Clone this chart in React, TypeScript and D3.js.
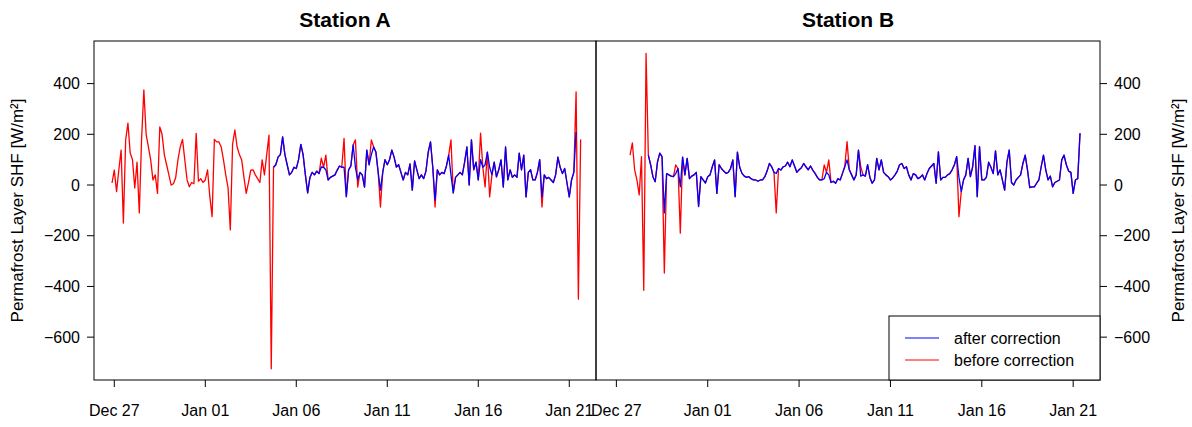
import * as d3 from 'd3'

// readings every 3 hours, first one at Dec 26 21:00
const startTime = Date.UTC(2014, 11, 26, 21)
const stepMs = 3 * 3600 * 1000

// Station A: raw values before the corrected record begins (index 0..70)
const rawOnlyA = [
  8, 59, -26, 60, 138, -150, 178, 244, 126, 100,
  -12, 90, -110, 180, 375, 200, 150, 99, 20, 40,
  -33, 229, 200, 120, 80, 40, 0, 5, 30, 100,
  150, 180, 99, 20, -7, 10, 5, 204, 15, 25,
  10, 20, 60, -46, -125, 180, 170, 170, 150, 99,
  40, -10, -177, 160, 217, 150, 120, 99, 30, -33,
  10, 59, 60, 40, 25, 10, 99, 40, 120, 197,
  -725,
]
const afterStartA = 71
const afterA = [
  70, 80, 110, 120, 190, 120, 80, 40, 50, 70,
  65, 100, 160, 120, 40, -31, 30, 50, 40, 55,
  45, 71, 70, 60, 20, 30, 35, 40, 59, 75,
  70, 70, -46, 60, 75, 158, 70, 20, 50, 40,
  -8, 138, 80, 120, 150, 130, 50, -20, 50, 100,
  80, 100, 138, 110, 71, 80, 50, 20, 50, 40,
  83, -20, 95, 60, 25, 40, 25, 55, 130, 170,
  70, -59, 60, 40, 50, 45, 75, 118, 40, -31,
  30, 40, 50, 40, 90, 150, 0, 178, 60, 90,
  20, 100, 70, 80, 130, 70, 40, 90, 32, 60,
  99, -8, 150, 20, 60, 30, 40, 30, 126, 60,
  118, -47, 50, 60, 20, 20, 50, 100, -47, 40,
  25, 30, 20, 10, 40, 110, 70, 45, 65, 8,
  -47, 20, 50, 209,
]
// [index, raw value] where the raw record differs from the corrected one
const rawSpikesA = [
  [92, 106], [94, 118], [102, 184], [107, 178], [108, -8], [114, 178],
  [118, -87], [142, -87], [149, 178], [162, 205], [164, -8], [166, -47],
  [189, -87], [204, 367], [205, -450], [206, 180],
]

// Station B
const rawOnlyStartB = 7
const rawOnlyB = [118, 166, 60, 20, -39, 112, -415, 519]
const afterStartB = 15
const afterB = [
  118, 80, 33, 13, 90, 126, 112, -110, 45, 40,
  35, 33, 45, 65, -7, 110, 40, 105, 25, 35,
  40, 50, -85, 33, 20, 8, 33, 40, 72, 99,
  -33, 80, 65, 55, 46, 50, 65, 99, -46, 130,
  70, 46, 35, 30, 33, 25, 20, 20, 15, 20,
  20, 33, 55, 85, 72, 50, 46, 65, 59, 72,
  75, 90, 72, 99, 75, 50, 60, 68, 85, 72,
  60, 75, 59, 46, 30, 20, 20, 25, 50, 40,
  10, 15, 7, 25, 20, 46, 72, 99, 60, 40,
  20, 40, 138, 35, 40, 35, 80, 30, 7, 20,
  105, 60, 99, 50, 40, 33, 20, 28, 40, 55,
  80, 85, 65, 72, 40, 20, 45, 40, 25, 30,
  40, 20, 45, 65, 75, 85, 7, 131, 20, 30,
  30, 40, 45, 60, 80, 112, 30, -26, 20, 40,
  105, 33, 72, 155, -46, 151, 20, 20, 30, 90,
  70, 45, 135, 40, 60, 20, -20, 90, 138, 10,
  0, 20, 30, 40, 85, 118, 60, -10, -7, -7,
  7, 20, 72, 118, 60, 20, 35, -7, 10, 15,
  20, 99, 118, 80, 55, 50, -33, 20, 25, 204,
]
const rawSpikesB = [
  [22, -347], [27, 79], [29, -190], [71, -110], [92, 79], [94, 99],
  [102, 171], [108, 72], [151, -125],
]

const stations = ['Station A', 'Station B']
const yTicks = [-600, -400, -200, 0, 200, 400]
const xTickDates = [
  Date.UTC(2014, 11, 27), Date.UTC(2015, 0, 1), Date.UTC(2015, 0, 6),
  Date.UTC(2015, 0, 11), Date.UTC(2015, 0, 16), Date.UTC(2015, 0, 21),
]
const legendLabels = ['after correction', 'before correction']
const yLabel = 'Permafrost Layer SHF [W/m²]'

type Pt = { t: number; v: number }

function buildSeries(rawOnly: number[], rawStart: number, after: number[], afterStart: number, spikes: number[][]) {
  const afterPts: Pt[] = after.map((v, k) => ({ t: startTime + (afterStart + k) * stepMs, v }))
  const spikeMap = new Map(spikes.map(s => [s[0], s[1]]))
  const lastIdx = Math.max(afterStart + after.length - 1, ...spikes.map(s => s[0]))
  const beforePts: Pt[] = []
  for (let i = rawStart; i <= lastIdx; i++) {
    let v: number | undefined
    if (spikeMap.has(i)) v = spikeMap.get(i)
    else if (i < afterStart) v = rawOnly[i - rawStart]
    else v = after[i - afterStart]
    if (v !== undefined) beforePts.push({ t: startTime + i * stepMs, v })
  }
  return { before: beforePts, after: afterPts }
}

const seriesA = buildSeries(rawOnlyA, 0, afterA, afterStartA, rawSpikesA)
const seriesB = buildSeries(rawOnlyB, rawOnlyStartB, afterB, afterStartB, rawSpikesB)

const font = '"Liberation Sans", Arial, Helvetica, sans-serif'

export default function App() {
  const W = 1192
  const H = 427
  const top = 41
  const bottom = 380
  const panels = [
    { left: 94, right: 596, data: seriesA },
    { left: 596, right: 1100, data: seriesB },
  ]
  const domain = [Date.UTC(2014, 11, 25, 21, 15), Date.UTC(2015, 0, 22, 11, 15)]
  const y = d3.scaleLinear().domain([-769, 568]).range([bottom, top])
  const fmtDate = d3.utcFormat('%b %d')
  const fmtNum = d3.format('d')

  return (
    <svg width={W} height={H} style={{ position: 'absolute', left: 0, top: 0, background: '#fff' }} fontFamily={font}>
      {panels.map((p, pi) => {
        const x = d3.scaleUtc().domain(domain).range([p.left, p.right])
        const line = d3.line<Pt>().x(d => x(d.t)).y(d => y(d.v))
        return (
          <g key={pi}>
            <path d={line(p.data.before) || ''} fill="none" stroke="#ff0000" strokeWidth={1.3} strokeLinejoin="round" />
            <path d={line(p.data.after) || ''} fill="none" stroke="#0000ff" strokeWidth={1.3} strokeLinejoin="round" />
            <rect x={p.left} y={top} width={p.right - p.left} height={bottom - top} fill="none" stroke="#000" strokeWidth={1} />
            <text x={(p.left + p.right) / 2} y={27} textAnchor="middle" fontWeight="bold" fontSize={21}>{stations[pi]}</text>
            {xTickDates.map(t => (
              <g key={t}>
                <line x1={x(t)} x2={x(t)} y1={bottom} y2={bottom + 7} stroke="#000" />
                <text x={x(t)} y={416} textAnchor="middle" fontSize={16}>{fmtDate(t)}</text>
              </g>
            ))}
          </g>
        )
      })}
      {yTicks.map(v => (
        <g key={v}>
          <line x1={87} x2={94} y1={y(v)} y2={y(v)} stroke="#000" />
          <text x={80} y={y(v)} dy="0.35em" textAnchor="end" fontSize={16}>{fmtNum(v)}</text>
          <line x1={1100} x2={1107} y1={y(v)} y2={y(v)} stroke="#000" />
          <text x={1114} y={y(v)} dy="0.35em" textAnchor="start" fontSize={16}>{fmtNum(v)}</text>
        </g>
      ))}
      <text transform={`translate(23,${(top + bottom) / 2}) rotate(-90)`} textAnchor="middle" fontSize={17}>{yLabel}</text>
      <text transform={`translate(1184,${(top + bottom) / 2}) rotate(-90)`} textAnchor="middle" fontSize={17}>{yLabel}</text>
      <g>
        <rect x={889} y={316} width={211} height={bottom - 316} fill="#fff" stroke="#000" />
        {legendLabels.map((l, k) => (
          <g key={l}>
            <line x1={905} x2={939} y1={338 + k * 22} y2={338 + k * 22} stroke={k === 0 ? '#0000ff' : '#ff0000'} />
            <text x={954} y={338 + k * 22} dy="0.35em" fontSize={16}>{l}</text>
          </g>
        ))}
      </g>
    </svg>
  )
}
